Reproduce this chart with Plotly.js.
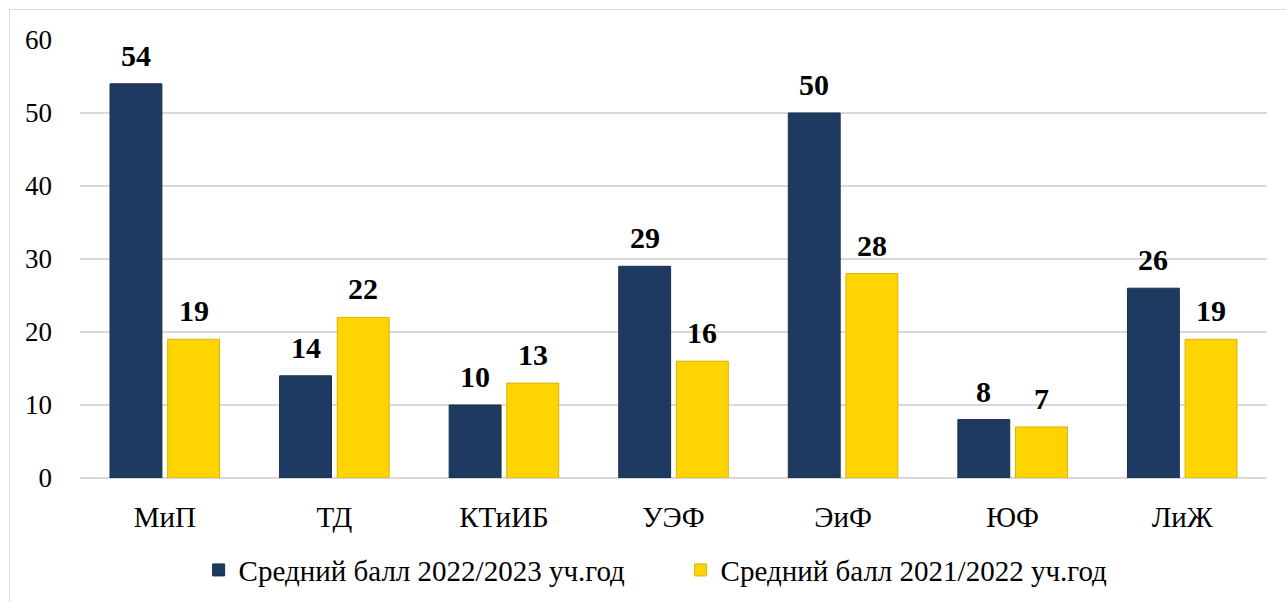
<!DOCTYPE html>
<html><head><meta charset="utf-8">
<script src="https://cdn.plot.ly/plotly-3.0.1.min.js"></script>
<style>
html,body{margin:0;padding:0;background:#fff;}
#wrap{position:relative;width:1286px;height:602px;overflow:hidden;}
#chart{width:1286px;height:602px;}
#frame{position:absolute;left:9px;top:9px;width:1300px;height:620px;border:1px solid #d9d9d9;pointer-events:none;}
</style></head>
<body>
<div id="wrap"><div id="chart"></div><div id="frame"></div></div>
<script>
const categories = ["МиП","ТД","КТиИБ","УЭФ","ЭиФ","ЮФ","ЛиЖ"];
const series2023 = [54,14,10,29,50,8,26];
const series2022 = [19,22,13,16,28,7,19];
const name2023 = "Средний балл 2022/2023 уч.год";
const name2022 = "Средний балл 2021/2022 уч.год";
const yTicks = [0,10,20,30,40,50,60];

const font = "Liberation Serif, Times New Roman, serif";
const bargap = 0.32, bargroupgap = 0.1;
const idx = categories.map((c,i)=>i);
const slot = (1-bargap)/2;
const off1 = -slot/2, off2 = slot/2;

const traces = [
 {type:'bar', x:idx, y:series2023, name:name2023,
  marker:{color:'#1F3A60', line:{color:'#18304f', width:1}}, hoverinfo:'none'},
 {type:'bar', x:idx, y:series2022, name:name2022,
  marker:{color:'#FFD400', line:{color:'#d9b400', width:1}}, hoverinfo:'none'}
];
const ann = [];
series2023.forEach((v,i)=>ann.push({x:i+off1,y:v,xref:'x',yref:'y',text:'<b>'+v+'</b>',showarrow:false,yanchor:'bottom',yshift:10,font:{family:font,size:30,color:'#000'}}));
series2022.forEach((v,i)=>ann.push({x:i+off2,y:v,xref:'x',yref:'y',text:'<b>'+v+'</b>',showarrow:false,yanchor:'bottom',yshift:10,font:{family:font,size:30,color:'#000'}}));

Plotly.newPlot('chart', traces, {
 width:1286, height:602,
 margin:{l:80,r:19,t:40,b:124,autoexpand:false},
 paper_bgcolor:'#fff', plot_bgcolor:'#fff',
 barmode:'group', bargap:bargap, bargroupgap:bargroupgap,
 font:{family:font,size:29,color:'#000'},
 xaxis:{tickmode:'array', tickvals:idx, ticktext:categories, range:[-0.5,categories.length-0.5],
   showgrid:false, zeroline:false, showline:false, ticks:'', ticklabelstandoff:19, automargin:false,
   tickfont:{family:font,size:29,color:'#000'}},
 yaxis:{range:[0,60], tickmode:'array', tickvals:yTicks, showgrid:true, gridcolor:'#d9d9d9', gridwidth:1.5,
   zeroline:true, zerolinecolor:'#d9d9d9', zerolinewidth:2, showline:false, ticks:'', ticklabelstandoff:27, automargin:false,
   tickfont:{family:font,size:27,color:'#000'}},
 showlegend:true,
 legend:{orientation:'h', x:0.506, xanchor:'center', y:-0.152, yanchor:'top', font:{family:font,size:29,color:'#000'},
   entrywidth:437, entrywidthmode:'pixels', itemwidth:20, tracegroupgap:0},
 annotations:ann
}, {displayModeBar:false, staticPlot:true});
</script>
</body></html>
